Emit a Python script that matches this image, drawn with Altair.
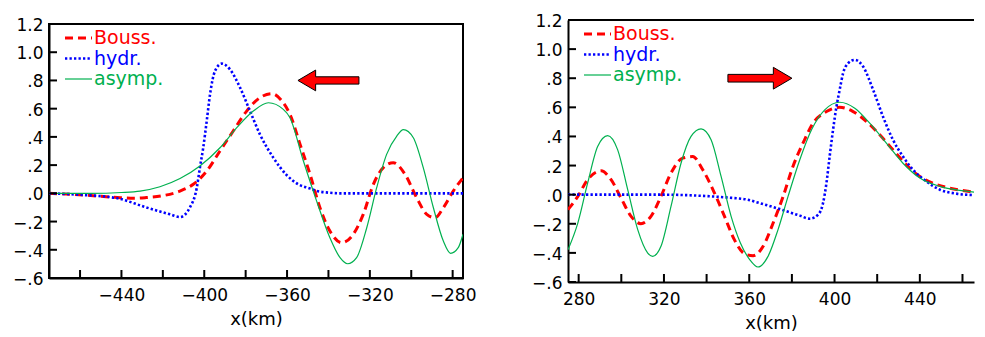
import altair as alt
import pandas as pd

# ---------------- data ----------------
# Left panel (wave moving left)
L_bouss_x = [-475, -458, -442, -434, -428, -421, -411.7, -405.3, -398.8, -392.4, -386, -379.5, -373.1,
             -367.4, -362, -358.6, -353.7, -348.9, -344.1, -339.3, -333.6, -328, -323.2, -318.3, -313.5,
             -308.7, -303, -297.4, -292.5, -288.5, -284.5, -279.7, -275]
L_bouss_y = [0.0, -0.012, -0.03, -0.035, -0.03, -0.019, 0.016, 0.064, 0.158, 0.30, 0.442, 0.583, 0.678,
             0.706, 0.645, 0.56, 0.347, 0.135, -0.102, -0.267, -0.35, -0.29, -0.149, 0.064, 0.182,
             0.217, 0.135, -0.031, -0.149, -0.173, -0.102, 0.016, 0.11]

L_hydr_x = [-475, -458, -442, -428, -416.5, -411.7, -407, -403.6, -402.1, -400.5, -398.8, -397.2, -394.8,
            -391.6, -387.6, -382.7, -377.9, -373.1, -366.6, -360.2, -354.6, -349, -345.7, -340, -334.4,
            -320, -300, -275]
L_hydr_y = [0.0, -0.012, -0.035, -0.10, -0.149, -0.168, -0.102, 0.04, 0.182, 0.323, 0.513, 0.702, 0.867,
            0.919, 0.879, 0.749, 0.583, 0.418, 0.252, 0.13, 0.064, 0.035, 0.017, 0.005, 0.0,
            0.0, 0.0, 0.0]

L_asym_x = [-475, -455, -440, -431, -421.4, -411.7, -402.1, -392.4, -384.3, -376.3, -369, -361.8, -358.6,
            -352.1, -345.7, -339.3, -334.4, -330.7, -326.4, -321.5, -316.7, -311.9, -307, -303.8, -299,
            -294.2, -289.3, -284.5, -281, -277.3, -275]
L_asym_y = [0.0, 0.0, 0.006, 0.016, 0.047, 0.105, 0.194, 0.323, 0.465, 0.583, 0.642, 0.595, 0.536,
            0.229, -0.055, -0.315, -0.456, -0.499, -0.456, -0.244, 0.04, 0.276, 0.406, 0.451, 0.394,
            0.182, -0.102, -0.338, -0.425, -0.385, -0.29]

# Right panel (wave moving right)
R_bouss_x = [275, 279.6, 284.2, 290.5, 295.2, 299.9, 304.6, 309.2, 313.9, 318.6, 323.3, 328.8, 333.5,
             338.2, 343.7, 348.4, 353, 357.7, 361.8, 366.5, 371.2, 375.9, 380.5, 385.2, 389.9, 396.2,
             402.4, 408.7, 415, 421.2, 427.4, 433.7, 440, 446.2, 454, 463.4, 470.5]
R_bouss_y = [-0.103, -0.012, 0.103, 0.164, 0.103, -0.024, -0.149, -0.199, -0.149, -0.012, 0.148, 0.251, 0.262,
             0.171, 0.011, -0.149, -0.309, -0.405, -0.419, -0.355, -0.195, -0.012, 0.194, 0.354, 0.491, 0.571,
             0.6, 0.571, 0.502, 0.411, 0.308, 0.205, 0.125, 0.079, 0.045, 0.022, 0.011]

R_hydr_x = [275, 300, 320, 340, 350, 359.3, 364.9, 374.3, 383.7, 388.4, 392.3, 394.6, 396.2, 397.7, 399.3,
            400.9, 402.4, 404, 406.3, 409.5, 413.4, 418.1, 422.7, 427.4, 432.1, 436.8, 443.1, 449.4, 457.2,
            465, 470.5]
R_hydr_y = [0.0, 0.0, 0.0, -0.01, -0.02, -0.035, -0.058, -0.099, -0.144, -0.165, -0.137, -0.058, 0.079, 0.262, 0.446,
            0.605, 0.72, 0.834, 0.902, 0.926, 0.88, 0.72, 0.537, 0.377, 0.262, 0.171, 0.091, 0.034, 0.007,
            -0.003, -0.005]

R_asym_x = [275, 279.6, 284.2, 288.9, 293.6, 298.3, 303, 307.7, 312.4, 314.7, 318.6, 323.3, 328, 332.7,
            337.4, 342.1, 346.8, 351.5, 355.8, 360.2, 364.1, 368.8, 373.5, 378.2, 383.7, 389.2, 395.4,
            402.4, 409.5, 416.5, 424.3, 432.1, 440, 449.4, 458.7, 470.5]
R_asym_y = [-0.378, -0.195, 0.079, 0.331, 0.406, 0.308, 0.034, -0.24, -0.401, -0.424, -0.355, -0.081, 0.216, 0.4,
            0.452, 0.377, 0.125, -0.149, -0.33, -0.446, -0.497, -0.424, -0.24, -0.012, 0.24, 0.446, 0.583,
            0.635, 0.594, 0.491, 0.354, 0.216, 0.114, 0.057, 0.029, 0.011]

LEGEND_LABELS = ["Bouss.", "hydr.", "asymp."]
Y_TICKS = [-0.6, -0.4, -0.2, 0.0, 0.2, 0.4, 0.6, 0.8, 1.0, 1.2]
L_XLABELS = [-440, -400, -360, -320, -280]
L_XTICKS = [-460, -440, -420, -400, -380, -360, -340, -320, -300, -280]
R_XLABELS = [280, 320, 360, 400, 440]
R_XTICKS = [280, 300, 320, 340, 360, 380, 400, 420, 440, 460]
L_XDOMAIN = [-475, -275]
R_XDOMAIN = [275, 465.4]   # right panel is cut by the image edge
Y_DOMAIN = [-0.6, 1.2]
ARROW_X = [-340, 365]
ARROW_Y = [0.80, 0.80]

# ---------------- styling ----------------
RED, BLUE, GREEN = "#ff0000", "#0000ff", "#00b04f"
FONT = "DejaVu Sans"
STYLES = [(RED, [8, 5], 3.0), (BLUE, [2.3, 2.2], 2.6), (GREEN, None, 1.2)]
ARROW_LEFT = "M -1 0 L -0.42 -0.34 L -0.42 -0.12 L 1 -0.12 L 1 0.12 L -0.42 0.12 L -0.42 0.34 Z"
ARROW_RIGHT = "M 1 0 L 0.42 -0.34 L 0.42 -0.12 L -1 -0.12 L -1 0.12 L 0.42 0.12 L 0.42 0.34 Z"
LEG_Y = [14.0, 34.5, 55.0]
TICK_PX = 8


def tick_segments(xticks, xdom, w, h):
    """Two end points per inward tick, in data units (bottom ticks, then left ticks)."""
    dy = TICK_PX * (Y_DOMAIN[1] - Y_DOMAIN[0]) / h
    dx = TICK_PX * (xdom[1] - xdom[0]) / w
    rows = []
    for i, xv in enumerate(xticks):
        rows += [{"id": f"b{i}", "x": xv, "y": Y_DOMAIN[0]},
                 {"id": f"b{i}", "x": xv, "y": Y_DOMAIN[0] + dy}]
    for i, yv in enumerate(Y_TICKS):
        rows += [{"id": f"l{i}", "x": xdom[0], "y": yv},
                 {"id": f"l{i}", "x": xdom[0] + dx, "y": yv}]
    return pd.DataFrame(rows)


def panel(series, xdom, xlabels, xticks, w, h, ax, ay, shape, size, full_frame):
    xs = alt.Scale(domain=xdom, nice=False, zero=False)
    ys = alt.Scale(domain=Y_DOMAIN, nice=False, zero=False)
    layers = []

    # curves; the first one carries the axes
    for i, ((xv, yv), (col, dash, sw)) in enumerate(zip(series, STYLES)):
        df = pd.DataFrame({"x": xv, "y": yv})
        kw = dict(color=col, strokeWidth=sw, interpolate="monotone", clip=True)
        if dash:
            kw["strokeDash"] = dash
        if i == 0:
            xenc = alt.X("x:Q", scale=xs, axis=alt.Axis(
                orient="bottom", values=xlabels, ticks=False, grid=False, format="d",
                title="x(km)", labelPadding=9, titlePadding=7, labelOverlap=False))
            yenc = alt.Y("y:Q", scale=ys, axis=alt.Axis(
                orient="left", values=Y_TICKS, ticks=False, grid=False, title=None,
                labelPadding=6, labelOffset=1.5, labelOverlap=False,
                labelExpr="replace(format(datum.value, '.1f'), '0.', '.')"))
        else:
            xenc = alt.X("x:Q", scale=xs, axis=None)
            yenc = alt.Y("y:Q", scale=ys, axis=None)
        layers.append(alt.Chart(df).mark_line(**kw).encode(x=xenc, y=yenc))

    # inward tick marks, each a 2-point line segment
    layers.append(alt.Chart(tick_segments(xticks, xdom, w, h)).mark_line(
        color="black", strokeWidth=2).encode(
        x=alt.X("x:Q", scale=xs, axis=None), y=alt.Y("y:Q", scale=ys, axis=None),
        detail="id:N"))

    # top frame line for the cut right panel
    if not full_frame:
        tdf = pd.DataFrame({"y": [Y_DOMAIN[1]]})
        layers.append(alt.Chart(tdf).mark_rule(color="black", strokeWidth=2).encode(
            y=alt.Y("y:Q", scale=ys, axis=None), x=alt.value(0), x2=alt.value(w)))

    # legend (line sample + coloured label)
    for (col, dash, sw), lab, ly in zip(STYLES, LEGEND_LABELS, LEG_Y):
        ldf = pd.DataFrame({"label": [lab]})
        rkw = dict(color=col, strokeWidth=sw)
        if dash:
            rkw["strokeDash"] = dash
        layers.append(alt.Chart(ldf).mark_rule(**rkw).encode(
            x=alt.value(16), x2=alt.value(43), y=alt.value(ly)))
        layers.append(alt.Chart(ldf).mark_text(
            align="left", baseline="middle", font=FONT, fontSize=19, color=col).encode(
            x=alt.value(45), y=alt.value(ly), text="label:N"))

    # direction arrow
    adf = pd.DataFrame({"x": [ax], "y": [ay]})
    layers.append(alt.Chart(adf).mark_point(
        shape=shape, size=size, filled=True, fill=RED, stroke="black", strokeWidth=1,
        opacity=1, fillOpacity=1, strokeOpacity=1).encode(
        x=alt.X("x:Q", scale=xs, axis=None), y=alt.Y("y:Q", scale=ys, axis=None)))

    view = alt.ViewBackground(stroke="black" if full_frame else "transparent", strokeWidth=2)
    return alt.layer(*layers).resolve_axis(x="independent", y="independent").properties(
        width=w, height=h, view=view)


left = panel([(L_bouss_x, L_bouss_y), (L_hydr_x, L_hydr_y), (L_asym_x, L_asym_y)],
             L_XDOMAIN, L_XLABELS, L_XTICKS, 414, 254, ARROW_X[0], ARROW_Y[0], ARROW_LEFT, 3721, True)
right = panel([(R_bouss_x, R_bouss_y), (R_hydr_x, R_hydr_y), (R_asym_x, R_asym_y)],
              R_XDOMAIN, R_XLABELS, R_XTICKS, 406, 262, ARROW_X[1], ARROW_Y[1], ARROW_RIGHT, 4096, False)

chart = alt.hconcat(left, right, spacing=105, bounds="flush", center=True).properties(
    padding={"left": 3, "top": 3, "right": 0, "bottom": 0}
).configure_axis(
    labelFont=FONT, labelFontSize=17, labelColor="black",
    titleFont=FONT, titleFontSize=18, titleFontWeight="normal", titleColor="black",
    domainColor="black", domainWidth=2, tickColor="black", tickWidth=1.5,
)

chart.save("out.html", embed_options={"renderer": "svg", "actions": False})
